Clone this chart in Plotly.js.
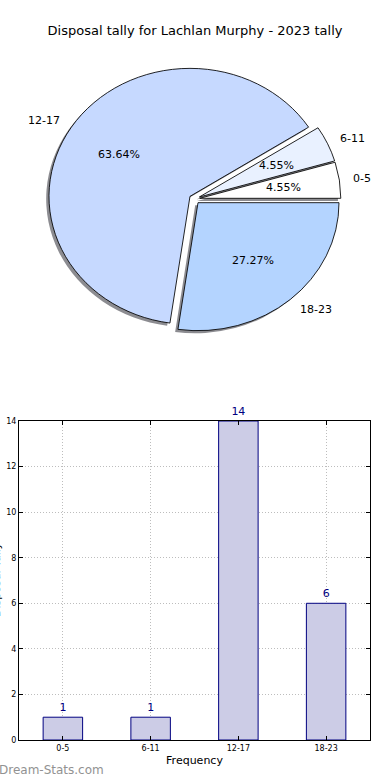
<!DOCTYPE html>
<html><head><meta charset="utf-8">
<script src="https://cdn.plot.ly/plotly-3.0.1.min.js"></script>
<style>html,body{margin:0;padding:0;background:#fff}#c{width:390px;height:780px}</style>
</head><body><div id="c"></div>
<script>
var categories = ["0-5", "6-11", "12-17", "18-23"];
var counts = [1, 1, 14, 6];
var yTicks = [0, 2, 4, 6, 8, 10, 12, 14];
var sliceColors = ["#ffffff", "#e9f1ff", "#c6d9ff", "#b4d4ff"];
var titleText = "Disposal tally for Lachlan Murphy - 2023 tally";
var yTitle = "Disposal Tally";
var xTitle = "Frequency";
var watermark = "Dream-Stats.com";

var W = 390, H = 780;
function px(x){return x / W;}
function py(y){return 1 - y / H;}
var font = "DejaVu Sans, Liberation Sans, sans-serif";

// pie geometry (pixels): horizontal radius rx, vertical radius ry (elliptic, as in the reference)
var cx = 194.5, cy = 199, rx = 141, ry = 128, explode = 0.038, pctDist = 0.6, labelDist = 1.1;
var half = rx * (1 + explode);
var pieDom = {x:[px(cx - half), px(cx + half)], y:[py(cy + half), py(cy - half)]};
var sdx = -2.8, sdy = 2.9;
var shadowDom = {x:[px(cx - half + sdx), px(cx + half + sdx)], y:[py(cy + half + sdy), py(cy - half + sdy)]};
var total = counts.reduce(function(a,b){return a+b;}, 0);
var rot = 90 - 360 * counts[0] / total; // Plotly ccw pies place the first slice so that it ends at `rotation`
var pulls = counts.map(function(){return explode;});

var shadow = {
  type:'pie', values:counts, labels:categories, sort:false, direction:'counterclockwise', rotation:rot,
  pull:pulls, domain:shadowDom, textinfo:'none', hoverinfo:'skip', showlegend:false,
  marker:{colors:counts.map(function(){return 'rgba(45,45,55,0.55)';}), line:{width:0}}
};
var main = {
  type:'pie', values:counts, labels:categories, sort:false, direction:'counterclockwise', rotation:rot,
  pull:pulls, domain:pieDom, textinfo:'none', showlegend:false,
  marker:{colors:sliceColors, line:{width:0.9, color:'#000'}}
};
var bars = {
  type:'bar', x:categories, y:counts, xaxis:'x', yaxis:'y', width:0.45,
  marker:{color:'#ccccE6', line:{color:'#000080', width:1}},
  text:counts.map(String), textposition:'outside', cliponaxis:false,
  textfont:{family:font, size:11, color:'#000080'}, showlegend:false
};

var annotations = [];
var acc = 0;
counts.forEach(function(v, i){
  var a0 = acc, a1 = acc + 360 * v / total; acc = a1;
  var mid = (a0 + a1) / 2 * Math.PI / 180;
  var c = Math.cos(mid), s = Math.sin(mid);
  var dp = explode + pctDist, dl = explode + labelDist;
  annotations.push({text:(100 * v / total).toFixed(2) + '%', xref:'paper', yref:'paper',
    x:px(cx + dp * rx * c), y:py(cy - dp * ry * s), showarrow:false, xanchor:'center', yanchor:'middle',
    font:{family:font, size:11, color:'#000'}});
  annotations.push({text:categories[i], xref:'paper', yref:'paper',
    x:px(cx + dl * rx * c), y:py(cy - dl * ry * s), showarrow:false, xanchor:(c > 0 ? 'left' : 'right'), yanchor:'middle',
    xshift:(c > 0 ? -2 : 2), font:{family:font, size:11, color:'#000'}});
});
annotations.push({text:yTitle, xref:'paper', yref:'paper', x:px(-4), y:py(580), textangle:-90, showarrow:false,
  font:{family:font, size:11, color:'#000'}, xanchor:'center', yanchor:'middle'});
annotations.push({text:watermark, xref:'paper', yref:'paper', x:px(-3), y:py(770), showarrow:false,
  font:{family:font, size:12, color:'#929292'}, xanchor:'left', yanchor:'middle'});

var layout = {
  width:W, height:H, margin:{l:0, r:0, t:0, b:0}, paper_bgcolor:'#fff', plot_bgcolor:'#fff',
  font:{family:font, color:'#000'},
  title:{text:titleText, font:{family:font, size:13, color:'#000'}, x:0.5, xanchor:'center', y:py(30), yanchor:'middle'},
  xaxis:{domain:[px(19), px(370)], range:[-0.5, 3.5], type:'category',
    showgrid:true, gridcolor:'#bdbdbd', griddash:'1px,2px', gridwidth:1,
    showline:true, linecolor:'#000', linewidth:1, mirror:'allticks', ticks:'inside', ticklen:4, tickcolor:'#000',
    tickfont:{family:font, size:8, color:'#000'}, zeroline:false, fixedrange:true,
    title:{text:xTitle, font:{family:font, size:11, color:'#000'}, standoff:4}},
  yaxis:{domain:[py(740), py(421)], range:[0, 14], tickvals:yTicks,
    showgrid:true, gridcolor:'#bdbdbd', griddash:'1px,2px', gridwidth:1,
    showline:true, linecolor:'#000', linewidth:1, mirror:'allticks', ticks:'inside', ticklen:4, tickcolor:'#000',
    tickfont:{family:font, size:8, color:'#000'}, zeroline:false, fixedrange:true},
  annotations:annotations
};
Plotly.newPlot('c', [shadow, main, bars], layout, {displayModeBar:false, staticPlot:true}).then(function(gd){
  var s = ry / rx;
  var layers = gd.querySelectorAll('.pielayer');
  layers.forEach(function(g){
    g.setAttribute('transform', 'translate(0,' + (cy * (1 - s)) + ') scale(1,' + s + ')');
  });
});
</script></body></html>
